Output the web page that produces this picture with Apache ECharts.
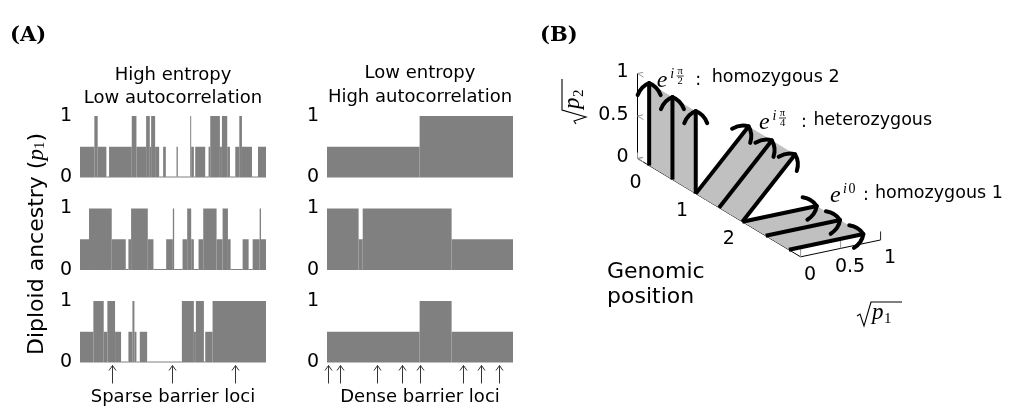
<!DOCTYPE html>
<html><head><meta charset="utf-8">
<script src="https://cdn.jsdelivr.net/npm/echarts@6/dist/echarts.min.js"></script>
<style>html,body{margin:0;padding:0;background:#fff}#c{width:1016px;height:410px}</style>
</head><body><div id="c"></div>
<script>
// ---------------- Panel A data (positions along genome 0..100, ancestry p1) ----------------
const highBreaks1 = [0,7.72,9.52,14.18,15.62,27.83,30.34,35.55,37.52,38.24,40.39,42.55,44.70,46.14,51.89,52.60,59.25,59.78,61.22,61.94,67.32,69.12,70.02,75.22,76.30,79.17,80.61,83.48,85.64,87.07,92.46,95.69,100];
const highValues1 = [0.5,1,0.5,0,0.5,1,0.5,1,0.5,1,0.5,0,0.5,0,0.5,0,1,0.5,0,0.5,0,0.5,1,0.5,1,0.5,0,0.5,1,0.5,0,0.5];
const highBreaks2 = [0,4.85,17.06,24.60,26.03,27.47,36.45,39.50,46.32,49.91,50.63,55.12,57.63,59.78,61.22,63.73,66.25,73.43,76.66,79.53,80.97,87.43,90.66,92.82,96.59,97.31,100];
const highValues2 = [0.5,1,0.5,0,0.5,1,0.5,0,0.5,1,0,0.5,1,0.5,0,0.5,1,0.5,1,0.5,0,0.5,0,0.5,1,0.5];
const highBreaks3 = [0,7.18,12.75,14.72,18.85,22.08,26.03,28.19,29.26,30.34,32.14,36.09,54.76,61.22,62.30,66.61,67.32,71.27,100];
const highValues3 = [0.5,1,0.5,1,0.5,0,0.5,1,0.5,0,0.5,0,1,0.5,1,0,0.5,1];
const lowBreaks1 = [0,49.8,100];
const lowValues1 = [0.5,1];
const lowBreaks2 = [0,17.0,19.2,67.0,100];
const lowValues2 = [1,0.5,1,0.5];
const lowBreaks3 = [0,49.8,67.0,100];
const lowValues3 = [0.5,1,0.5];
const sparseLoci = [17.4,49.6,83.3];
const denseLoci = [0.3,6.8,26.9,40.3,49.8,73.1,82.9,92.7];
const ancestryTicks = [0,1];

// ---------------- Panel B data ----------------
const arrowLocus = [0.25,0.75,1.25,1.25,1.75,2.25,2.25,2.75,3.25];
const arrowRe    = [0,0,0,0.66,0.66,0.66,0.93,0.93,0.93];
const arrowIm    = [0.97,0.97,0.97,0.66,0.66,0.66,0,0,0];
const ribbonStart = [0,3,6];
const ribbonEnd   = [2,5,8];
const genomicRange = [0,3.5];
const genomicTicks = [0,1,2];
const genomicTickMarks = [0,1,2,3];
const p1Ticks = [0,0.5,1];
const p2Ticks = [0,0.5,1];
const stateLabels = ['homozygous 2','heterozygous','homozygous 1'];

// ---------------- layout / style ----------------
const SANS = '"DejaVu Sans", sans-serif';
const GRAY = '#808080';
const colLeft = [80, 327];
const rowTop = [116, 208.5, 301];
const plotW = 186, plotH = 61.5;

// projection of the 3-D panel B (genomic position g, sqrt p1 = a, sqrt p2 = b)
const B_O=[77.5,118.5], B_G=[46.6,28.1], B_A=[80,-16.9], B_B=[0,-85];
function proj(g,a,b){return [B_O[0]+g*B_G[0]+a*B_A[0]+b*B_B[0], B_O[1]+g*B_G[1]+a*B_A[1]+b*B_B[1]];}

// piecewise-constant segments: [start, end, value]
function segData(br, vals){ return vals.map((v,i)=>[br[i], br[i+1], v]); }

const panels = [
  [highBreaks1, highValues1],[highBreaks2, highValues2],[highBreaks3, highValues3],
  [lowBreaks1, lowValues1],[lowBreaks2, lowValues2],[lowBreaks3, lowValues3]
];

const grids=[], xAxes=[], yAxes=[], series=[];
panels.forEach((p,i)=>{
  const col = i<3?0:1, row=i%3;
  grids.push({left:colLeft[col], top:rowTop[row], width:plotW, height:plotH});
  xAxes.push({type:'value', gridIndex:i, min:0, max:100, show:false});
  yAxes.push({type:'value', gridIndex:i, min:ancestryTicks[0], max:ancestryTicks[1], interval:1,
    axisLine:{show:false}, axisTick:{show:false}, splitLine:{show:false},
    axisLabel:{fontSize:19, color:'#000', margin:8, fontFamily:SANS}});
  series.push({type:'custom', xAxisIndex:i, yAxisIndex:i, silent:true,
    data: segData(p[0], p[1]),
    renderItem(params, api){
      const a = api.coord([api.value(0), api.value(2)]);
      const b = api.coord([api.value(1), 0]);
      if (api.value(2) === 0) {
        return {type:'line', shape:{x1:a[0], y1:b[1]-0.5, x2:b[0], y2:b[1]-0.5}, style:{stroke:GRAY, lineWidth:1}};
      }
      return {type:'rect', shape:{x:a[0], y:a[1], width:b[0]-a[0], height:b[1]-a[1]}, style:{fill:GRAY}};
    }});
});

function lociSeries(idx, loci){
  return {type:'custom', xAxisIndex:idx, yAxisIndex:idx, silent:true,
    data: loci.map(x=>[x,0]),
    renderItem(params, api){
      const p = api.coord([api.value(0), 0]);
      const x = Math.round(p[0])+0.5, y0 = p[1]+3, y1 = p[1]+21;
      const st = {stroke:'#333', lineWidth:1, fill:'none'};
      return {type:'group', children:[
        {type:'line', shape:{x1:x,y1:y0,x2:x,y2:y1}, style:st},
        {type:'polyline', shape:{points:[[x-3.5,y0+5],[x,y0],[x+3.5,y0+5]]}, style:st}
      ]};
    }};
}
series.push(lociSeries(2, sparseLoci));
series.push(lociSeries(5, denseLoci));

// panel B grid (projection plane)
const BI = 6;
grids.push({left:560, top:40, width:420, height:320});
xAxes.push({type:'value', gridIndex:BI, min:0, max:420, show:false});
yAxes.push({type:'value', gridIndex:BI, min:0, max:320, inverse:true, show:false});

function C(api, pt){ return api.coord(pt); }

// axes + tick marks
series.push({type:'custom', xAxisIndex:BI, yAxisIndex:BI, silent:true, data:[[0,0]], z:1,
  renderItem(params, api){
    const ch=[];
    const L=(a,b,stroke,w)=>{const p=C(api,a), q=C(api,b); ch.push({type:'line', shape:{x1:p[0],y1:p[1],x2:q[0],y2:q[1]}, style:{stroke, lineWidth:w||1}});};
    const gMax = genomicRange[1];
    L(proj(0,0,0), proj(0,0,p2Ticks[p2Ticks.length-1]), '#000', 1);
    L(proj(0,0,0), proj(gMax,0,0), '#000', 1);
    L(proj(gMax,0,0), proj(gMax,p1Ticks[p1Ticks.length-1],0), '#000', 1);
    p2Ticks.forEach(b=>{ L(proj(0,0,b), proj(0,0.07,b), '#999'); L(proj(0,0,b), proj(0.13,0,b), '#999'); });
    genomicTickMarks.forEach(g=>{ L(proj(g,0,0), proj(g,0.07,0), '#999'); L(proj(g,0,0), proj(g,0,0.07), '#999'); });
    p1Ticks.forEach((a,i)=>{ L(proj(gMax,a,0), proj(gMax,a,0.1), i===p1Ticks.length-1?'#222':'#999'); });
    const txt=(pt,dx,dy,text,align)=>{const p=C(api,pt); ch.push({type:'text', x:p[0]+dx, y:p[1]+dy,
      style:{text, font:'19px '+SANS, fill:'#000', textAlign:align, align, textVerticalAlign:'middle', verticalAlign:'middle'}});};
    p2Ticks.forEach(b=>txt(proj(0,0,b), -9, -1, String(b), 'right'));
    genomicTicks.forEach(g=>txt(proj(g,0,0), -2, 24.5, String(g), 'center'));
    p1Ticks.forEach(a=>txt(proj(gMax,a,0), 9.5, 18.5, String(a), 'center'));
    return {type:'group', children:ch};
  }});

// gray ribbons
series.push({type:'custom', xAxisIndex:BI, yAxisIndex:BI, silent:true, z:2,
  data: ribbonStart.map((s,i)=>[s, ribbonEnd[i]]),
  renderItem(params, api){
    const s=api.value(0), e=api.value(1);
    const pts=[proj(arrowLocus[s],0,0), proj(arrowLocus[s],arrowRe[s],arrowIm[s]),
               proj(arrowLocus[e],arrowRe[e],arrowIm[e]), proj(arrowLocus[e],0,0)].map(p=>C(api,p));
    return {type:'polygon', shape:{points:pts}, style:{fill:'#c0c0c0', stroke:'none'}};
  }});

// arrows
series.push({type:'custom', xAxisIndex:BI, yAxisIndex:BI, silent:true, z:3,
  data: arrowLocus.map((g,i)=>[g, arrowRe[i], arrowIm[i]]),
  renderItem(params, api){
    const g=api.value(0), re=api.value(1), im=api.value(2);
    const p0=C(api,proj(g,0,0)), p1=C(api,proj(g,re,im));
    const dx=p1[0]-p0[0], dy=p1[1]-p0[1], L=Math.hypot(dx,dy), ux=dx/L, uy=dy/L, nx=-uy, ny=ux;
    const hw=11.5, hl=12;
    const st={stroke:'#000', lineWidth:4, fill:'none', lineCap:'round', lineJoin:'round'};
    const ch=[{type:'line', shape:{x1:p0[0],y1:p0[1],x2:p1[0]-ux,y2:p1[1]-uy}, style:{stroke:'#000', lineWidth:4}}];
    [1,-1].forEach(s=>ch.push({type:'bezierCurve', shape:{x1:p1[0],y1:p1[1],
      x2:p1[0]-ux*hl+nx*hw*s, y2:p1[1]-uy*hl+ny*hw*s,
      cpx1:p1[0]-ux*3+nx*hw*0.7*s, cpy1:p1[1]-uy*3+ny*hw*0.7*s}, style:st}));
    return {type:'group', children:ch};
  }});

// ---------------- texts ----------------
function T(x,y,text,font,align,extra){
  return Object.assign({type:'text', x, y, silent:true, style:{text, font, fill:'#000',
    textAlign:align||'left', align:align||'left', textVerticalAlign:'middle', verticalAlign:'middle'}}, extra||{});
}
const F17 = '17.5px '+SANS;
const F18 = '18px '+SANS;
const EIT = 'italic 24px "Liberation Serif", serif';
const SUPIT = 'italic 14px "Liberation Serif", serif';
const FR = '10.5px "Liberation Serif", serif';

function expLabel(x, y, parts, colonDx, textDx, label, ly){
  const ch=[T(x, y, 'e', EIT)];
  parts.forEach(p=>{
    if (p.frac){
      ch.push(T(x+p.dx, y+p.dy-5, p.frac[0], FR, 'center'));
      ch.push({type:'line', shape:{x1:x+p.dx-3.5, y1:y+p.dy, x2:x+p.dx+3.5, y2:y+p.dy}, style:{stroke:'#000', lineWidth:0.8}});
      ch.push(T(x+p.dx, y+p.dy+5, p.frac[1], FR, 'center'));
    } else ch.push(T(x+p.dx, y+p.dy, p.t, p.font||SUPIT));
  });
  ch.push(T(x+colonDx, y-1, ':', F17));
  ch.push(T(x+textDx, ly, label, F17));
  return ch;
}

function sqrtSym(cx, cy, sub, rot){
  const pts=[[-22.5,2],[-19.5,0],[-15.5,12],[-8.5,-12],[22.5,-12]];
  return {type:'group', x:cx, y:cy, rotation:rot||0, silent:true, children:[
    {type:'polyline', shape:{points:pts}, style:{stroke:'#000', lineWidth:1.1, fill:'none'}},
    T(-7.5, -1, 'p', 'italic 23px "Liberation Serif", serif'),
    T(4.5, 5, sub, '15px "Liberation Serif", serif')
  ]};
}

const graphics = [
  T(10, 36, '(A)', 'bold 21px "DejaVu Serif", serif'),
  T(540, 36, '(B)', 'bold 21px "DejaVu Serif", serif'),
  T(173, 75, 'High entropy', F18, 'center'),
  T(173, 98.5, 'Low autocorrelation', F18, 'center'),
  T(420, 73, 'Low entropy', F18, 'center'),
  T(420, 97, 'High autocorrelation', F18, 'center'),
  T(173, 397, 'Sparse barrier loci', F18, 'center'),
  T(420, 397, 'Dense barrier loci', F18, 'center'),
  {type:'text', x:37, y:244, rotation:Math.PI/2, silent:true, style:{
    text:'{a|Diploid ancestry (}{p|p}{s|1}{a|)}', fill:'#000', align:'center', textAlign:'center', verticalAlign:'middle', textVerticalAlign:'middle',
    rich:{a:{font:'22px '+SANS, fill:'#000'}, p:{font:'italic 23px "Liberation Serif", serif', fill:'#000'}, s:{font:'15px "Liberation Serif", serif', fill:'#000', padding:[0,0,-6,0]}}}},
  T(607, 272, 'Genomic', '22px '+SANS),
  T(607, 297, 'position', '22px '+SANS),
  sqrtSym(879.5, 314, '1', 0),
  sqrtSym(574, 101.5, '2', Math.PI/2)
];
expLabel(656.7, 81, [{t:'i', dx:13.5, dy:-7},{frac:['π','2'], dx:23.5, dy:-5}], 38.5, 55, stateLabels[0], 77).forEach(e=>graphics.push(e));
expLabel(759, 123, [{t:'i', dx:13.5, dy:-7},{frac:['π','4'], dx:23.5, dy:-5}], 42, 54.5, stateLabels[1], 120).forEach(e=>graphics.push(e));
expLabel(830, 196, [{t:'i', dx:13, dy:-7},{t:'0', dx:18.5, dy:-7, font:'14px "Liberation Serif", serif'}], 33, 45, stateLabels[2], 193).forEach(e=>graphics.push(e));

const chart = echarts.init(document.getElementById('c'), null, {renderer:'canvas', width:1016, height:410});
chart.setOption({
  animation:false,
  backgroundColor:'#fff',
  textStyle:{fontFamily:SANS},
  grid:grids, xAxis:xAxes, yAxis:yAxes, series,
  graphic:graphics
});
</script></body></html>
